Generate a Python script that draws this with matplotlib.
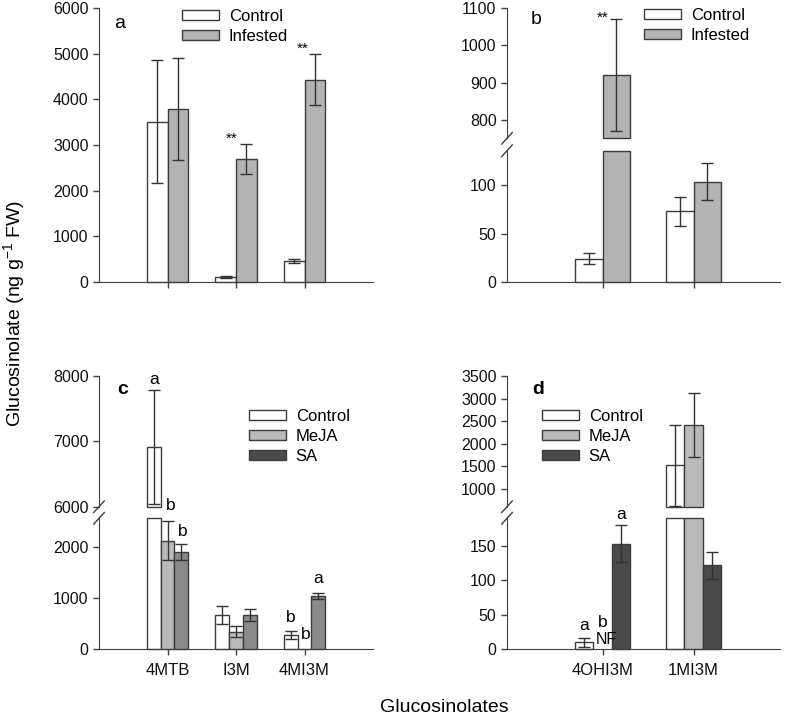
import matplotlib
matplotlib.use('Agg')
import matplotlib.pyplot as plt
from matplotlib.patches import Patch
from matplotlib.lines import Line2D
import numpy as np

plt.rcParams['font.family'] = ['Liberation Sans', 'DejaVu Sans']
plt.rcParams['mathtext.default'] = 'regular'

# ---------------- data ----------------
groups_a = ['4MTB', 'I3M', '4MI3M']
control_a = [3510, 110, 460]
control_a_err = [1350, 20, 40]
infested_a = [3800, 2700, 4430]
infested_a_err = [1120, 330, 560]

groups_b = ['4OHI3M', '1MI3M']
control_b = [24, 73]
control_b_err = [5.5, 15]
infested_b = [920, 104]
infested_b_err = [150, 19]

groups_c = ['4MTB', 'I3M', '4MI3M']
control_c = [6910, 670, 280]
control_c_err = [870, 180, 85]
meja_c = [2130, 345, 10]
meja_c_err = [380, 110, 0]
sa_c = [1910, 673, 1045]
sa_c_err = [150, 125, 65]

groups_d = ['4OHI3M', '1MI3M']
control_d = [10, 1520]
control_d_err = [7, 900]
meja_d = [0, 2420]
meja_d_err = [0, 710]
sa_d = [153, 122]
sa_d_err = [27, 19.5]

# ---------------- style ----------------
EDGE = '#3c3c3c'
AXC = '#404040'
ERRC = '#333333'
C_WHITE = 'white'
C_INF = '#b3b3b3'
C_MEJA = '#bababa'
C_SA_C = '#8a8a8a'
C_SA_D = '#4a4a4a'
TICK_FS = 11.5
TXT_FS = 12.5

W, H = 787, 716
fig = plt.figure(figsize=(W / 100, H / 100), dpi=100)


def box(l, r, top, bot):
    return [l / W, 1 - bot / H, (r - l) / W, (bot - top) / H]


def style(ax, bottom=True):
    for s in ['top', 'right']:
        ax.spines[s].set_visible(False)
    ax.spines['left'].set_color(AXC)
    ax.spines['bottom'].set_color(AXC)
    ax.tick_params(direction='out', length=4, width=1, color=AXC,
                   labelsize=TICK_FS, labelcolor='#111111')
    if not bottom:
        ax.spines['bottom'].set_visible(False)
        ax.tick_params(axis='x', bottom=False, labelbottom=False)
    ax.set_facecolor('none')


def bars(ax, x, vals, errs, color, width, lo=None, hi=None):
    vals = np.asarray(vals, float)
    errs = np.asarray(errs, float)
    x = np.asarray(x, float)
    keep = vals > 0
    if lo is not None:
        m = keep & (vals > lo)
        ax.bar(x[m], vals[m] - lo, bottom=lo, width=width, color=color,
               edgecolor=EDGE, linewidth=1, zorder=2, clip_on=False)
    else:
        h = np.minimum(vals, hi) if hi is not None else vals
        ax.bar(x[keep], h[keep], width=width, color=color,
               edgecolor=EDGE, linewidth=1, zorder=2, clip_on=False)
    e = errs > 0
    ax.errorbar(x[e], vals[e], yerr=errs[e], fmt='none', ecolor=ERRC,
                elinewidth=1, capsize=4.5, capthick=1, zorder=3)


def break_marks(xpix, ys):
    for y in ys:
        fig.add_artist(Line2D([(xpix - 5.3) / W, (xpix + 5.3) / W],
                              [1 - (y + 5.8) / H, 1 - (y - 5.8) / H],
                              color=AXC, lw=1))


def legend(handles, labels, xpix, ypix):
    fig.legend(handles, labels, loc='upper left',
               bbox_to_anchor=(xpix / W, 1 - ypix / H), frameon=False,
               fontsize=12, handlelength=2.2, handleheight=0.6,
               handletextpad=0.6, labelspacing=0.3, borderpad=0,
               borderaxespad=0)


# ---------------- panel a ----------------
xa = np.arange(1, len(groups_a) + 1)
ax_a = fig.add_axes(box(99, 373, 8.3, 281.7))
style(ax_a)
bars(ax_a, xa - 0.15, control_a, control_a_err, C_WHITE, 0.3)
bars(ax_a, xa + 0.15, infested_a, infested_a_err, C_INF, 0.3)
ax_a.set_xlim(0, 4)
ax_a.set_ylim(0, 6000)
ax_a.set_yticks(np.arange(0, 6001, 1000))
ax_a.set_xticks(xa)
ax_a.set_xticklabels([])
ax_a.text(1.94, 3147, '**', ha='center', va='center', fontsize=11)
ax_a.text(2.97, 5116, '**', ha='center', va='center', fontsize=11)
fig.text(120 / W, 1 - 23 / H, 'a', fontsize=14, ha='center', va='center')
legend([Patch(facecolor=C_WHITE, edgecolor=EDGE),
        Patch(facecolor=C_INF, edgecolor=EDGE)],
       ['Control', 'Infested'], 182, 9)

# ---------------- panel b ----------------
xb = np.arange(1, len(groups_b) + 1)
ax_bu = fig.add_axes(box(507, 780, 8.3, 138.3))
ax_bl = fig.add_axes(box(507, 780, 150.7, 281.7))
style(ax_bu, bottom=False)
style(ax_bl)
for ax, lo, hi in [(ax_bu, 750, None), (ax_bl, None, 136)]:
    bars(ax, xb - 0.15, control_b, control_b_err, C_WHITE, 0.3, lo, hi)
    bars(ax, xb + 0.15, infested_b, infested_b_err, C_INF, 0.3, lo, hi)
    ax.set_xlim(-0.05, 2.95)
ax_bu.set_ylim(750, 1100)
ax_bu.set_yticks([800, 900, 1000, 1100])
ax_bl.set_ylim(0, 136)
ax_bl.set_yticks([0, 50, 100])
ax_bl.set_xticks(xb)
ax_bl.set_xticklabels([])
ax_bu.text(1.0, 1074, '**', ha='center', va='center', fontsize=11)
break_marks(507, [138.3, 150.7])
fig.text(536 / W, 1 - 20 / H, 'b', fontsize=14, ha='center', va='center')
legend([Patch(facecolor=C_WHITE, edgecolor=EDGE),
        Patch(facecolor=C_INF, edgecolor=EDGE)],
       ['Control', 'Infested'], 644, 8)

# ---------------- panel c ----------------
xc = np.arange(1, len(groups_c) + 1)
ax_cu = fig.add_axes(box(99, 373, 376, 506.7))
ax_cl = fig.add_axes(box(99, 373, 518.3, 649.3))
style(ax_cu, bottom=False)
style(ax_cl)
for ax, lo, hi in [(ax_cu, 6000, None), (ax_cl, None, 2570)]:
    bars(ax, xc - 0.2, control_c, control_c_err, C_WHITE, 0.2, lo, hi)
    bars(ax, xc, meja_c, meja_c_err, C_MEJA, 0.2, lo, hi)
    bars(ax, xc + 0.2, sa_c, sa_c_err, C_SA_C, 0.2, lo, hi)
    ax.set_xlim(0, 4)
ax_cu.set_ylim(6000, 8000)
ax_cu.set_yticks([6000, 7000, 8000])
ax_cl.set_ylim(0, 2570)
ax_cl.set_yticks([0, 1000, 2000])
ax_cl.set_xticks(xc)
ax_cl.set_xticklabels(groups_c, fontsize=12)
ax_cl.tick_params(axis='x', pad=6)
for ax, x, y, s in [(ax_cu, 0.8, 7939, 'a'), (ax_cu, 1.05, 6026, 'b'),
                    (ax_cl, 1.22, 2306, 'b'), (ax_cl, 2.8, 633, 'b'),
                    (ax_cl, 3.02, 300, 'b'), (ax_cl, 3.2, 1398, 'a')]:
    ax.text(x, y, s, ha='center', va='center', fontsize=TXT_FS, clip_on=False)
break_marks(99, [506.7, 518.3])
fig.text(123 / W, 1 - 390 / H, 'c', fontsize=14, fontweight='bold',
         ha='center', va='center')
legend([Patch(facecolor=C_WHITE, edgecolor=EDGE),
        Patch(facecolor=C_MEJA, edgecolor=EDGE),
        Patch(facecolor=C_SA_D, edgecolor=EDGE)],
       ['Control', 'MeJA', 'SA'], 249, 409)

# ---------------- panel d ----------------
xd = np.arange(1, len(groups_d) + 1)
ax_du = fig.add_axes(box(507, 780, 376, 506.7))
ax_dl = fig.add_axes(box(507, 780, 518.3, 649.3))
style(ax_du, bottom=False)
style(ax_dl)
for ax, lo, hi in [(ax_du, 600, None), (ax_dl, None, 190)]:
    bars(ax, xd - 0.2, control_d, control_d_err, C_WHITE, 0.2, lo, hi)
    bars(ax, xd, meja_d, meja_d_err, C_MEJA, 0.2, lo, hi)
    bars(ax, xd + 0.2, sa_d, sa_d_err, C_SA_D, 0.2, lo, hi)
    ax.set_xlim(-0.05, 2.95)
ax_du.set_ylim(600, 3500)
ax_du.set_yticks([1000, 1500, 2000, 2500, 3000, 3500])
ax_dl.set_ylim(0, 190)
ax_dl.set_yticks([0, 50, 100, 150])
ax_dl.set_xticks(xd)
ax_dl.set_xticklabels(groups_d, fontsize=12)
ax_dl.tick_params(axis='x', pad=6)
for ax, x, y, s in [(ax_dl, 0.8, 35, 'a'), (ax_dl, 1.0, 39, 'b'),
                    (ax_dl, 1.2, 196, 'a')]:
    ax.text(x, y, s, ha='center', va='center', fontsize=TXT_FS, clip_on=False)
ax_dl.text(0.93, 13.5, 'NF', ha='left', va='center', fontsize=11.5,
           clip_on=False)
break_marks(507, [506.7, 518.3])
fig.text(537.7 / W, 1 - 389 / H, 'd', fontsize=14, fontweight='bold',
         ha='center', va='center')
legend([Patch(facecolor=C_WHITE, edgecolor=EDGE),
        Patch(facecolor=C_MEJA, edgecolor=EDGE),
        Patch(facecolor=C_SA_D, edgecolor=EDGE)],
       ['Control', 'MeJA', 'SA'], 542, 409)

# ---------------- axis labels ----------------
fig.text(14 / W, 1 - 313 / H, 'Glucosinolate (ng g$^{-1}$ FW)', rotation=90,
         ha='center', va='center', fontsize=14)
fig.text(444 / W, 1 - 707 / H, 'Glucosinolates', ha='center', va='center',
         fontsize=14)

fig.savefig('out.png', dpi=100)
